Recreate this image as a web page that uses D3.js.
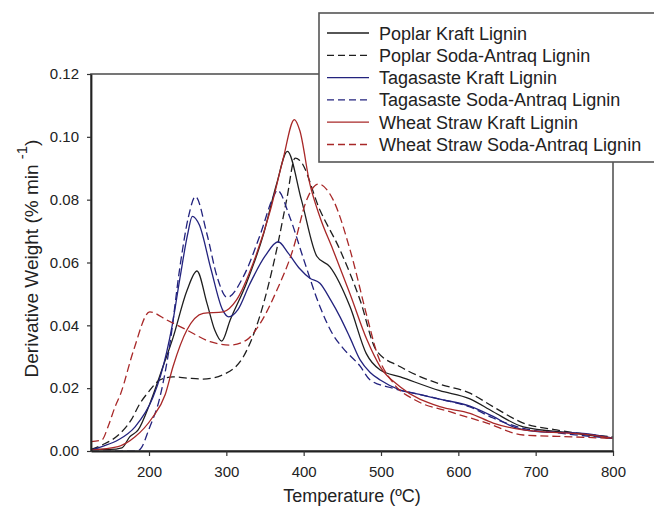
<!DOCTYPE html>
<html>
<head>
<meta charset="utf-8">
<script src="https://cdn.jsdelivr.net/npm/d3@7"></script>
<style>
  html, body { margin: 0; padding: 0; background: #fff; }
  svg { display: block; font-family: "Liberation Sans", Arial, sans-serif; }
</style>
</head>
<body>
<svg id="chart" width="654" height="509"></svg>
<script>
// ---------- DATA ----------
const seriesNames = [
  "Poplar Kraft Lignin",
  "Poplar Soda-Antraq Lignin",
  "Tagasaste Kraft Lignin",
  "Tagasaste Soda-Antraq Lignin",
  "Wheat Straw Kraft Lignin",
  "Wheat Straw Soda-Antraq Lignin"
];

const poplarKraftT = [125,150,165,175,186,201,218,231,249,262,275,285,294,305,326,348,365,379,397,417,434,460,481,499,525,576,615,645,684,748,800];
const poplarKraftV = [0.0005,0.0005,0.001,0.0045,0.0067,0.015,0.0268,0.036,0.051,0.0573,0.047,0.0385,0.035,0.0417,0.0534,0.069,0.085,0.0954,0.080,0.062,0.0586,0.0459,0.031,0.0258,0.0236,0.0192,0.0166,0.0125,0.0077,0.0057,0.004];

const poplarSodaT = [125,140,160,177,188,200,214,231,250,270,300,322,343,365,378,389,395,421,447,473,494,525,576,615,645,684,727,800];
const poplarSodaV = [0.0005,0.002,0.005,0.0099,0.015,0.019,0.0226,0.0236,0.0232,0.0229,0.0248,0.030,0.0427,0.064,0.080,0.0932,0.0925,0.0767,0.064,0.048,0.032,0.0268,0.0213,0.0184,0.0141,0.0089,0.0067,0.0045];

const tagKraftT = [125,140,160,182,205,215,230,240,250,256,265,280,295,303,315,330,350,367,380,395,408,421,435,447,460,473,486,499,525,550,576,615,645,671,706,757,800];
const tagKraftV = [0.0003,0.0015,0.0035,0.0077,0.017,0.024,0.040,0.055,0.069,0.0747,0.072,0.058,0.045,0.0427,0.045,0.053,0.062,0.0666,0.063,0.058,0.055,0.0534,0.048,0.0427,0.036,0.029,0.025,0.0226,0.0194,0.018,0.0165,0.0143,0.011,0.0077,0.0061,0.0057,0.0041];

const tagSodaT = [125,185,190,200,214,227,240,251,260,275,288,301,322,344,361,366,382,400,421,438,450,473,486,515,550,576,615,645,684,727,800];
const tagSodaV = [0,0,0.001,0.007,0.017,0.034,0.0586,0.0745,0.081,0.069,0.0555,0.0489,0.0555,0.069,0.081,0.083,0.0745,0.061,0.046,0.037,0.033,0.027,0.0226,0.020,0.018,0.0165,0.014,0.0105,0.0072,0.0058,0.004];

const wheatKraftT = [125,160,182,204,221,231,249,270,296,313,335,357,373,388,395,408,421,438,460,482,499,525,576,615,645,684,770,800];
const wheatKraftV = [0.0003,0.0014,0.0045,0.0105,0.018,0.0268,0.0385,0.0438,0.0443,0.048,0.060,0.0767,0.0925,0.1055,0.102,0.085,0.0745,0.064,0.050,0.0353,0.0268,0.0204,0.0141,0.012,0.0089,0.0067,0.0051,0.004];

const wheatSodaT = [125,139,147,156,163,180,201,223,249,279,305,326,344,365,386,404,419,438,460,482,495,516,546,589,637,684,748,800];
const wheatSodaV = [0.003,0.0035,0.0077,0.014,0.018,0.032,0.0443,0.0417,0.0385,0.0348,0.0337,0.0353,0.0407,0.051,0.064,0.080,0.085,0.080,0.064,0.0427,0.031,0.0216,0.016,0.0125,0.0089,0.0051,0.0045,0.004];

const xTicks = [200,300,400,500,600,700,800];
const yTicks = [0.00,0.02,0.04,0.06,0.08,0.10,0.12];

// ---------- STYLE ----------
const BLACK = "#1e1e1e", BLUE = "#23237e", RED = "#a82828";
const series = [
  {name: seriesNames[0], t: poplarKraftT, v: poplarKraftV, color: BLACK, dash: null},
  {name: seriesNames[1], t: poplarSodaT,  v: poplarSodaV,  color: BLACK, dash: "8,4"},
  {name: seriesNames[2], t: tagKraftT,    v: tagKraftV,    color: BLUE,  dash: null},
  {name: seriesNames[3], t: tagSodaT,     v: tagSodaV,     color: BLUE,  dash: "8,4"},
  {name: seriesNames[4], t: wheatKraftT,  v: wheatKraftV,  color: RED,   dash: null},
  {name: seriesNames[5], t: wheatSodaT,   v: wheatSodaV,   color: RED,   dash: "8,4"}
];

const L = 91, R = 613, T = 74, B = 451;
const svg = d3.select("#chart");
svg.append("rect").attr("width", 654).attr("height", 509).attr("fill", "#fff");

const x = d3.scaleLinear().domain([125, 800]).range([L, R]);
const y = d3.scaleLinear().domain([0, 0.12]).range([B, T]);

svg.append("defs").append("clipPath").attr("id", "clip")
  .append("rect").attr("x", L).attr("y", T - 5).attr("width", R - L).attr("height", B - T + 5);

// curves
const line = d3.line().x(d => x(d[0])).y(d => y(d[1])).curve(d3.curveMonotoneX);
const g = svg.append("g").attr("clip-path", "url(#clip)");
series.forEach(s => {
  const pts = s.t.map((t, i) => [t, s.v[i]]);
  g.append("path").datum(pts)
    .attr("d", line)
    .attr("fill", "none")
    .attr("stroke", s.color)
    .attr("stroke-width", 1.3)
    .attr("stroke-dasharray", s.dash);
});

// frame
svg.append("rect").attr("x", L).attr("y", T).attr("width", R - L).attr("height", B - T)
  .attr("fill", "none").attr("stroke", "#555").attr("stroke-width", 1.6);

// axes
const xAxis = d3.axisBottom(x).tickValues(xTicks).tickSize(5).tickSizeOuter(0).tickPadding(10);
const yAxis = d3.axisLeft(y).tickValues(yTicks).tickSize(4).tickSizeOuter(0).tickPadding(8).tickFormat(d3.format(".2f"));

const gx = svg.append("g").attr("transform", `translate(0,${B})`).call(xAxis);
const gy = svg.append("g").attr("transform", `translate(${L},0)`).call(yAxis);
[gx, gy].forEach(a => {
  a.select(".domain").attr("stroke", "#222").attr("stroke-width", 1.8);
  a.selectAll(".tick line").attr("stroke", "#333").attr("stroke-width", 1.2);
  a.selectAll(".tick text").attr("fill", "#222").style("font-size", "15px")
    .style("font-family", "'Liberation Sans', Arial, sans-serif");
});

// axis titles
svg.append("text")
  .attr("x", (L + R) / 2).attr("y", 502)
  .attr("text-anchor", "middle")
  .attr("fill", "#222")
  .style("font-size", "18px")
  .text("Temperature (ºC)");

const yt = svg.append("text")
  .attr("transform", `translate(38,${(T + B) / 2 - 4}) rotate(-90)`)
  .attr("text-anchor", "middle")
  .attr("fill", "#222")
  .style("font-size", "19px");
yt.append("tspan").text("Derivative Weight (% min ");
yt.append("tspan").attr("dy", -11).style("font-size", "15px").text("-1");
yt.append("tspan").attr("dy", 11).text(")");

// legend
const lg = svg.append("g");
lg.append("rect").attr("x", 319).attr("y", 13).attr("width", 345).attr("height", 149)
  .attr("fill", "#fff").attr("stroke", "#555").attr("stroke-width", 1.6);
series.forEach((s, i) => {
  const cy = 33 + i * 22.3;
  lg.append("line").attr("x1", 327).attr("x2", 369).attr("y1", cy).attr("y2", cy)
    .attr("stroke", s.color).attr("stroke-width", 1.3).attr("stroke-dasharray", s.dash ? "7,4" : null);
  lg.append("text").attr("x", 379).attr("y", cy + 6.5)
    .attr("fill", "#222").style("font-size", "18px").text(s.name);
});
</script>
</body>
</html>
